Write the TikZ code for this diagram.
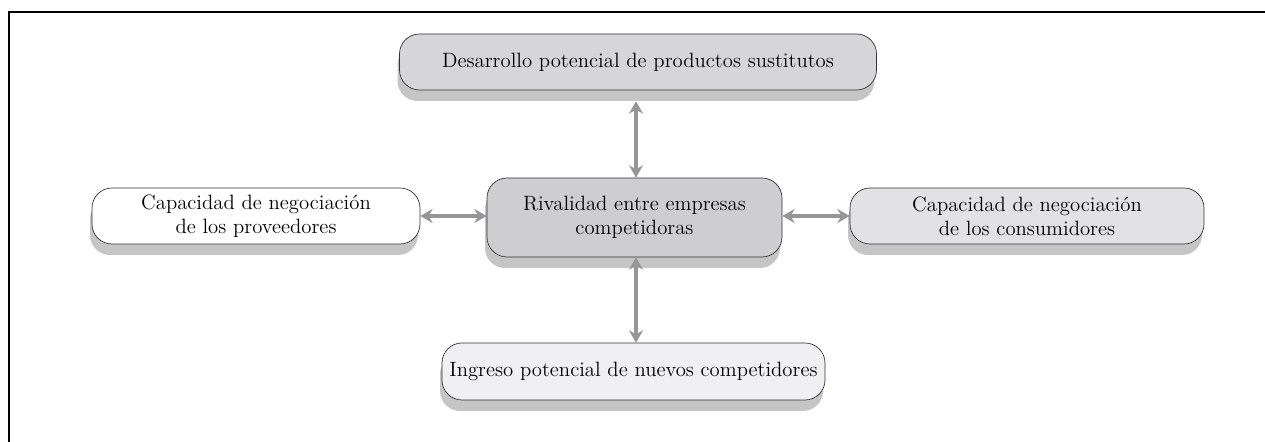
\documentclass[tikz,border=0pt]{standalone}
\usepackage{tikz}
\usetikzlibrary{arrows.meta,shadows}

\definecolor{boxgray}{RGB}{214,214,216}
\definecolor{midgray}{RGB}{206,206,208}
\definecolor{lightgray}{RGB}{226,226,228}
\definecolor{palegray}{RGB}{240,240,242}
\definecolor{arrowgray}{RGB}{150,150,150}

\begin{document}
\begin{tikzpicture}[
    fuerza/.style={draw=black!80, rounded corners=0.4cm, align=center,
      font=\fontsize{11.8}{13.6}\selectfont, minimum height=1.12cm,
      inner xsep=2pt,
      drop shadow={shadow xshift=-0.04cm, shadow yshift=-0.22cm, fill=black!45}},
    flecha/.style={arrowgray, line width=2pt,
      {Stealth[length=7pt,width=8pt]}-{Stealth[length=7pt,width=8pt]}}
  ]
  \useasboundingbox (0,0) rectangle (25.3,8.84);
  % frame (only top and left edges show)
  \draw[line width=1.1pt] (0.18,0) -- (0.18,8.6) -- (25.3,8.6);

  \node[fuerza, fill=midgray, minimum width=5.9cm, minimum height=1.58cm]
    (rival) at (12.69,4.49) {Rivalidad entre empresas\\competidoras};
  \node[fuerza, fill=boxgray, minimum width=9.54cm]
    (sustit) at (12.76,7.6) {Desarrollo potencial de productos sustitutos};
  \node[fuerza, fill=white, minimum width=6.56cm]
    (prov) at (5.12,4.52) {Capacidad de negociación\\de los proveedores};
  \node[fuerza, fill=lightgray, minimum width=7.08cm]
    (cons) at (20.54,4.52) {Capacidad de negociación\\de los consumidores};
  \node[fuerza, fill=palegray, minimum width=7.66cm, minimum height=1.14cm]
    (ingreso) at (12.67,1.41) {Ingreso potencial de nuevos competidores};

  % arrows between the forces
  \draw[flecha] ([yshift=-0.22cm]sustit.south -| 12.72,0) -- (rival.north -| 12.72,0);
  \draw[flecha] (rival.south -| 12.72,0) -- (ingreso.north -| 12.72,0);
  \draw[flecha] (prov.east |- 0,4.52) -- (rival.west |- 0,4.52);
  \draw[flecha] (rival.east |- 0,4.52) -- (cons.west |- 0,4.52);
\end{tikzpicture}
\end{document}
